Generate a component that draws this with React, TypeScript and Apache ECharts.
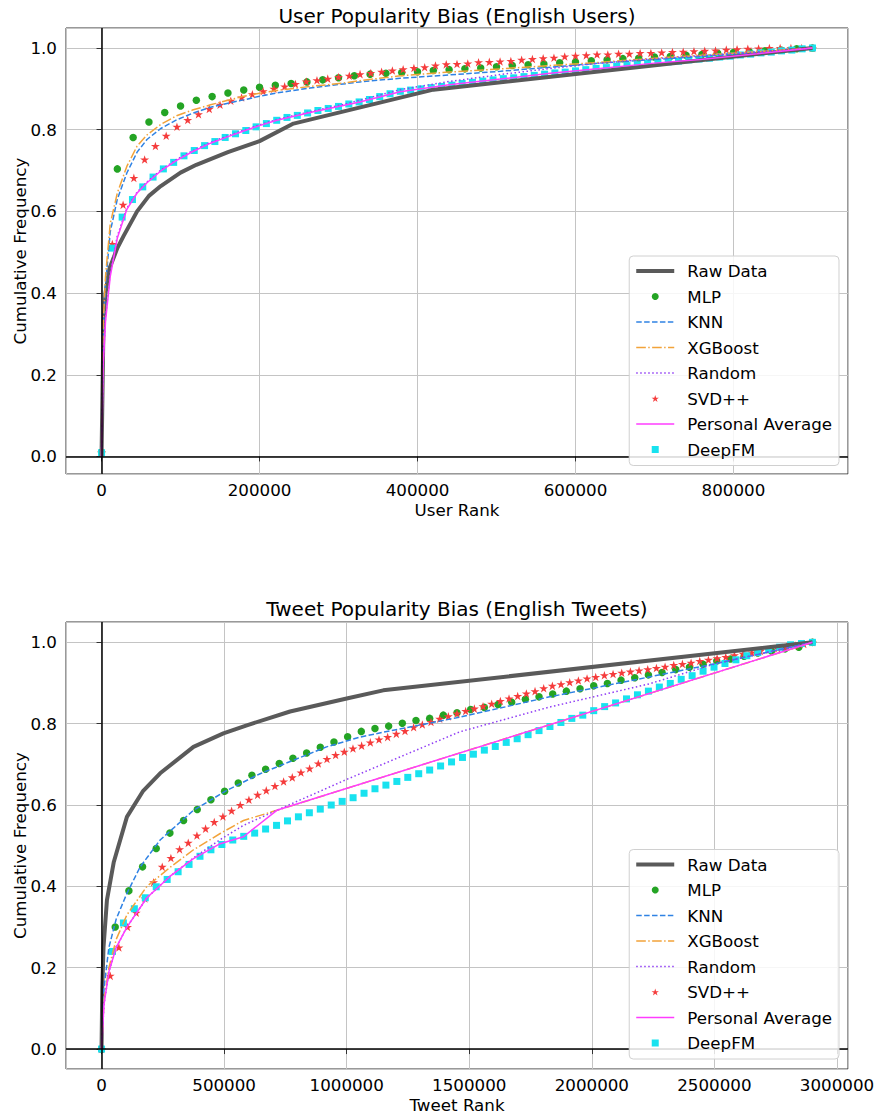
import React, { useEffect, useRef } from "react";
import * as echarts from "echarts";

const FONT = "DejaVu Sans";

// ---------------- User chart (top) ----------------
const userMaxRank = 900000;
const userRawX = [0, 2500, 5000, 10000, 20000, 28000, 45000, 60000, 75000, 100000, 120000, 160000, 200000, 243000, 420000, 900000];
const userRawY = [0, 0.33, 0.4, 0.46, 0.51, 0.54, 0.6, 0.638, 0.662, 0.695, 0.714, 0.745, 0.772, 0.815, 0.898, 1.0];

const userLineX = [0, 2000, 5000, 11000, 20000, 32000, 45000, 57500, 75000, 95000, 115000, 138000, 160000, 180000, 200000, 222000, 264000, 306000, 327000, 378000, 440000, 505000, 568000, 631000, 700000, 758000, 830000, 900000];
const userKnnY = [0, 0.3, 0.42, 0.55, 0.63, 0.694, 0.745, 0.776, 0.803, 0.824, 0.84, 0.855, 0.865, 0.873, 0.882, 0.89, 0.902, 0.912, 0.917, 0.926, 0.934, 0.943, 0.953, 0.963, 0.972, 0.979, 0.99, 1.0];
const userXgbY = [0, 0.32, 0.44, 0.57, 0.645, 0.71, 0.76, 0.787, 0.813, 0.834, 0.848, 0.861, 0.872, 0.882, 0.889, 0.896, 0.906, 0.914, 0.92, 0.932, 0.941, 0.949, 0.957, 0.965, 0.975, 0.982, 0.991, 1.0];
const userRandomY = [0, 0.23, 0.34, 0.45, 0.54, 0.607, 0.647, 0.672, 0.701, 0.727, 0.748, 0.769, 0.785, 0.799, 0.812, 0.825, 0.844, 0.862, 0.872, 0.898, 0.918, 0.935, 0.95, 0.963, 0.974, 0.981, 0.99, 1.0];
const userPaY = [0, 0.22, 0.33, 0.44, 0.535, 0.605, 0.645, 0.67, 0.699, 0.725, 0.746, 0.767, 0.783, 0.797, 0.81, 0.823, 0.842, 0.859, 0.868, 0.893, 0.91, 0.924, 0.938, 0.95, 0.963, 0.972, 0.986, 1.0];

// marker series, sampled at evenly spaced ranks from 0 to the last rank
const userMlpY = [0.01, 0.704, 0.781, 0.819, 0.842, 0.858, 0.872, 0.881, 0.89, 0.897, 0.904, 0.909, 0.913, 0.917, 0.922, 0.927, 0.932, 0.936, 0.938, 0.94, 0.942, 0.945, 0.947, 0.949, 0.951, 0.954, 0.957, 0.959, 0.961, 0.964, 0.966, 0.969, 0.971, 0.974, 0.975, 0.978, 0.979, 0.982, 0.984, 0.987, 0.989, 0.991, 0.993, 0.995, 0.998, 1.0];
const userSvdY = [0.01, 0.52, 0.616, 0.682, 0.727, 0.76, 0.785, 0.807, 0.824, 0.838, 0.851, 0.861, 0.871, 0.879, 0.887, 0.894, 0.9, 0.906, 0.912, 0.918, 0.921, 0.925, 0.929, 0.932, 0.936, 0.939, 0.942, 0.945, 0.948, 0.951, 0.953, 0.957, 0.96, 0.961, 0.962, 0.965, 0.966, 0.967, 0.968, 0.971, 0.973, 0.975, 0.976, 0.979, 0.981, 0.982, 0.984, 0.984, 0.986, 0.986, 0.988, 0.988, 0.989, 0.99, 0.991, 0.992, 0.993, 0.994, 0.996, 0.997, 0.998, 0.999, 1.0, 1.0, 1.0, 1.0, 1.0];
const userDeepFmY = [0.009, 0.51, 0.586, 0.629, 0.66, 0.684, 0.704, 0.72, 0.736, 0.749, 0.761, 0.771, 0.781, 0.79, 0.798, 0.807, 0.815, 0.823, 0.83, 0.835, 0.841, 0.847, 0.852, 0.857, 0.863, 0.868, 0.874, 0.881, 0.888, 0.894, 0.897, 0.9, 0.903, 0.906, 0.909, 0.913, 0.916, 0.919, 0.922, 0.925, 0.927, 0.93, 0.933, 0.936, 0.939, 0.941, 0.944, 0.947, 0.95, 0.952, 0.955, 0.957, 0.959, 0.962, 0.964, 0.966, 0.968, 0.971, 0.973, 0.975, 0.978, 0.98, 0.983, 0.985, 0.988, 0.99, 0.993, 0.995, 0.998, 1.0];

// ---------------- Tweet chart (bottom) ----------------
const tweetMaxRank = 2900000;
const tweetRawX = [0, 3000, 8000, 22000, 50000, 103500, 170000, 239000, 375000, 497000, 592500, 769000, 1000000, 1149000, 2900000];
const tweetRawY = [0, 0.15, 0.25, 0.366, 0.46, 0.571, 0.635, 0.678, 0.743, 0.776, 0.796, 0.83, 0.862, 0.882, 1.0];

const tweetKnnX = [0, 10000, 30000, 60000, 103500, 157700, 239000, 375000, 511000, 647000, 782000, 918000, 1054000, 1190000, 1326000, 1462000, 1828000, 2235000, 2508000, 2900000];
const tweetKnnY = [0, 0.15, 0.25, 0.32, 0.383, 0.448, 0.514, 0.587, 0.636, 0.677, 0.71, 0.743, 0.767, 0.784, 0.8, 0.816, 0.866, 0.915, 0.948, 1.0];
const tweetXgbX = [0, 10000, 30000, 60000, 103500, 185000, 280000, 375000, 484000, 579000, 715000, 2900000];
const tweetXgbY = [0, 0.12, 0.2, 0.27, 0.33, 0.4, 0.447, 0.49, 0.53, 0.562, 0.587, 1.0];
const tweetRandomX = [0, 10000, 30000, 60000, 103500, 185000, 280000, 375000, 484000, 579000, 715000, 1000000, 1461000, 1828000, 2235000, 2508000, 2900000];
const tweetRandomY = [0, 0.11, 0.19, 0.25, 0.3, 0.372, 0.425, 0.47, 0.515, 0.55, 0.587, 0.663, 0.78, 0.841, 0.898, 0.948, 1.0];
const tweetPaX = [0, 10000, 30000, 60000, 103500, 185000, 280000, 375000, 484000, 579000, 715000, 2900000];
const tweetPaY = [0, 0.11, 0.19, 0.25, 0.3, 0.372, 0.425, 0.468, 0.505, 0.522, 0.587, 1.0];

const tweetMlpY = [0.0, 0.3, 0.389, 0.448, 0.493, 0.531, 0.562, 0.589, 0.613, 0.634, 0.654, 0.673, 0.688, 0.702, 0.715, 0.728, 0.742, 0.755, 0.768, 0.781, 0.788, 0.794, 0.801, 0.808, 0.813, 0.821, 0.827, 0.835, 0.84, 0.847, 0.853, 0.86, 0.866, 0.873, 0.88, 0.886, 0.893, 0.899, 0.907, 0.913, 0.92, 0.926, 0.933, 0.939, 0.946, 0.954, 0.959, 0.966, 0.974, 0.979, 0.984, 0.988, 1.0];
const tweetSvdY = [0.0, 0.18, 0.25, 0.3, 0.335, 0.37, 0.41, 0.448, 0.47, 0.491, 0.507, 0.525, 0.542, 0.558, 0.572, 0.586, 0.6, 0.613, 0.625, 0.636, 0.647, 0.658, 0.668, 0.68, 0.69, 0.702, 0.713, 0.723, 0.731, 0.739, 0.746, 0.754, 0.761, 0.767, 0.775, 0.782, 0.791, 0.798, 0.804, 0.812, 0.818, 0.825, 0.831, 0.837, 0.843, 0.849, 0.856, 0.862, 0.868, 0.874, 0.88, 0.887, 0.893, 0.897, 0.902, 0.906, 0.911, 0.915, 0.919, 0.922, 0.925, 0.928, 0.931, 0.934, 0.937, 0.94, 0.944, 0.947, 0.95, 0.954, 0.957, 0.961, 0.964, 0.968, 0.972, 0.975, 0.979, 0.982, 0.985, 0.989, 0.992, 0.996, 1.0];
const tweetDeepFmY = [0.0, 0.24, 0.31, 0.345, 0.372, 0.399, 0.417, 0.436, 0.454, 0.474, 0.49, 0.503, 0.514, 0.523, 0.531, 0.541, 0.55, 0.561, 0.571, 0.581, 0.59, 0.6, 0.609, 0.618, 0.629, 0.64, 0.649, 0.658, 0.668, 0.677, 0.686, 0.696, 0.706, 0.717, 0.725, 0.735, 0.744, 0.754, 0.763, 0.773, 0.783, 0.793, 0.803, 0.813, 0.821, 0.832, 0.842, 0.851, 0.861, 0.871, 0.88, 0.89, 0.899, 0.909, 0.918, 0.929, 0.939, 0.948, 0.957, 0.967, 0.975, 0.982, 0.988, 0.994, 0.997, 1.0];

const legendNames = ["Raw Data", "MLP", "KNN", "XGBoost", "Random", "SVD++", "Personal Average", "DeepFM"];
const lineWidths: Record<string, number> = { "Raw Data": 4, KNN: 1.5, XGBoost: 1.5, Random: 1.5, "Personal Average": 1.5 };
const titles = ["User Popularity Bias (English Users)", "Tweet Popularity Bias (English Tweets)"];
const xNames = ["User Rank", "Tweet Rank"];
const yName = "Cumulative Frequency";

const STAR = "path://M50,0 L61.23,34.55 L97.55,34.55 L68.16,55.9 L79.39,90.45 L50,69.1 L20.61,90.45 L31.84,55.9 L2.45,34.55 L38.77,34.55 Z";
const SQUARE = "path://M0,0 L10,0 L10,10 L0,10 Z";

const C = {
  raw: "#5a5a5a",
  mlp: "#24a424",
  knn: "#2f82e4",
  xgb: "#f2a33a",
  random: "#8f3cf5",
  svd: "#f53c3c",
  pa: "#ff3cff",
  deepfm: "#18e2ef",
};

const pairs = (xs: number[], ys: number[]) => xs.map((x, i) => [x, ys[i]]);
const evenRanks = (max: number, ys: number[]) => ys.map((y, i) => [Math.round((max * i) / (ys.length - 1)), y]);

type ChartData = {
  max: number;
  raw: number[][];
  mlp: number[][];
  knn: number[][];
  xgb: number[][];
  random: number[][];
  svd: number[][];
  pa: number[][];
  deepfm: number[][];
};

const charts: ChartData[] = [
  {
    max: userMaxRank,
    raw: pairs(userRawX, userRawY),
    mlp: evenRanks(userMaxRank, userMlpY),
    knn: pairs(userLineX, userKnnY),
    xgb: pairs(userLineX, userXgbY),
    random: pairs(userLineX, userRandomY),
    svd: evenRanks(userMaxRank, userSvdY),
    pa: pairs(userLineX, userPaY),
    deepfm: evenRanks(userMaxRank, userDeepFmY),
  },
  {
    max: tweetMaxRank,
    raw: pairs(tweetRawX, tweetRawY),
    mlp: evenRanks(tweetMaxRank, tweetMlpY),
    knn: pairs(tweetKnnX, tweetKnnY),
    xgb: pairs(tweetXgbX, tweetXgbY),
    random: pairs(tweetRandomX, tweetRandomY),
    svd: evenRanks(tweetMaxRank, tweetSvdY),
    pa: pairs(tweetPaX, tweetPaY),
    deepfm: evenRanks(tweetMaxRank, tweetDeepFmY),
  },
];

const grids = [
  { left: 66, top: 28, width: 782, height: 446 },
  { left: 66, top: 622, width: 782, height: 447 },
];
const yRanges = [
  [-0.043, 1.049],
  [-0.049, 1.05],
];
const legendTops = [256, 849.5];
const titleYs = [16, 609];

function seriesFor(k: number, d: ChartData): any[] {
  const common = { xAxisIndex: k, yAxisIndex: k };
  return [
    {
      ...common,
      name: "Raw Data",
      type: "line",
      data: d.raw,
      symbol: "none",
      lineStyle: { color: C.raw, width: 4 },
      itemStyle: { color: C.raw },
      markLine: {
        silent: true,
        symbol: ["none", "none"],
        label: { show: false },
        lineStyle: { color: "#000", width: 1.5, type: "solid" },
        emphasis: { disabled: true },
        data: [{ xAxis: 0 }, { yAxis: 0 }],
      },
    },
    {
      ...common,
      name: "MLP",
      type: "scatter",
      data: d.mlp,
      symbol: "circle",
      symbolSize: 7.5,
      itemStyle: { color: C.mlp, opacity: 1 },
    },
    {
      ...common,
      name: "KNN",
      type: "line",
      data: d.knn,
      symbol: "none",
      lineStyle: { color: C.knn, width: 1.5, type: [5.5, 2.4] },
      itemStyle: { color: C.knn },
    },
    {
      ...common,
      name: "XGBoost",
      type: "line",
      data: d.xgb,
      symbol: "none",
      lineStyle: { color: C.xgb, width: 1.5, type: [9.6, 2.4, 1.5, 2.4] },
      itemStyle: { color: C.xgb },
    },
    {
      ...common,
      name: "Random",
      type: "line",
      data: d.random,
      symbol: "none",
      lineStyle: { color: C.random, width: 1.5, type: [1.5, 2.5] },
      itemStyle: { color: C.random },
    },
    {
      ...common,
      name: "SVD++",
      type: "scatter",
      data: d.svd,
      symbol: STAR,
      symbolKeepAspect: true,
      symbolSize: 9,
      itemStyle: { color: C.svd, opacity: 1 },
    },
    {
      ...common,
      name: "Personal Average",
      type: "line",
      data: d.pa,
      symbol: "none",
      lineStyle: { color: C.pa, width: 1.5 },
      itemStyle: { color: C.pa },
    },
    {
      ...common,
      name: "DeepFM",
      type: "scatter",
      data: d.deepfm,
      symbol: "rect",
      symbolSize: 7,
      itemStyle: { color: C.deepfm, opacity: 1 },
    },
  ];
}

const legendData = legendNames.map((n) => {
  if (lineWidths[n] !== undefined) return { name: n, itemStyle: { opacity: 0 }, lineStyle: { width: lineWidths[n] } };
  if (n === "DeepFM") return { name: n, icon: SQUARE, symbolKeepAspect: true };
  return { name: n };
});

export default function App() {
  const ref = useRef<HTMLDivElement>(null);

  useEffect(() => {
    if (!ref.current) return;
    const chart = echarts.init(ref.current, null, { renderer: "svg" });

    const textBase = { fontFamily: FONT, fontSize: 16.7, color: "#000" };

    const option: any = {
      animation: false,
      backgroundColor: "#fff",
      graphic: titles.map((t, k) => ({
        type: "text",
        x: 457,
        y: titleYs[k],
        style: {
          text: t,
          fontFamily: FONT,
          fontSize: 20,
          fill: "#000",
          align: "center",
          verticalAlign: "middle",
          textAlign: "center",
          textVerticalAlign: "middle",
        },
      })),
      grid: grids.map((g) => ({
        ...g,
        show: true,
        borderColor: "#333",
        borderWidth: 1,
        backgroundColor: "transparent",
        containLabel: false,
        outerBoundsMode: "none",
      })),
      xAxis: charts.map((d, k) => ({
        gridIndex: k,
        type: "value",
        min: -0.05 * d.max,
        max: 1.05 * d.max,
        splitNumber: 5,
        name: xNames[k],
        nameLocation: "middle",
        nameGap: 27,
        nameMoveOverlap: false,
        nameTextStyle: textBase,
        axisLine: { show: false },
        axisTick: { show: true, length: 5, lineStyle: { color: "#333", width: 1 } },
        axisLabel: {
          ...textBase,
          margin: 7,
          showMinLabel: false,
          showMaxLabel: false,
          formatter: (v: number) => String(Math.round(v)),
        },
        splitLine: { show: true, lineStyle: { color: "#c4c4c4", width: 1 } },
      })),
      yAxis: charts.map((d, k) => ({
        gridIndex: k,
        type: "value",
        min: yRanges[k][0],
        max: yRanges[k][1],
        splitNumber: 5,
        name: yName,
        nameLocation: "middle",
        nameGap: 38,
        nameMoveOverlap: false,
        nameTextStyle: textBase,
        axisLine: { show: false },
        axisTick: { show: true, length: 5, lineStyle: { color: "#333", width: 1 } },
        axisLabel: {
          ...textBase,
          margin: 9,
          showMinLabel: false,
          showMaxLabel: false,
          formatter: (v: number) => v.toFixed(1),
        },
        splitLine: { show: true, lineStyle: { color: "#c4c4c4", width: 1 } },
      })),
      legend: legendTops.map((top) => ({
        data: legendData,
        orient: "vertical",
        right: 41,
        top,
        padding: [5, 7, 6, 5],
        itemWidth: 38,
        itemHeight: 7,
        itemGap: 5.5,
        backgroundColor: "rgba(255,255,255,0.85)",
        borderColor: "#d0d0d0",
        borderWidth: 1,
        borderRadius: 4,
        selectedMode: false,
        textStyle: { ...textBase, lineHeight: 20, padding: [0, 0, 0, 8] },
        z: 10,
      })),
      series: charts.flatMap((d, k) => seriesFor(k, d)),
    };

    chart.setOption(option);
    return () => chart.dispose();
  }, []);

  return (
    <div
      ref={ref}
      style={{ position: "fixed", left: 0, top: 0, width: 880, height: 1116, background: "#fff" }}
    />
  );
}
